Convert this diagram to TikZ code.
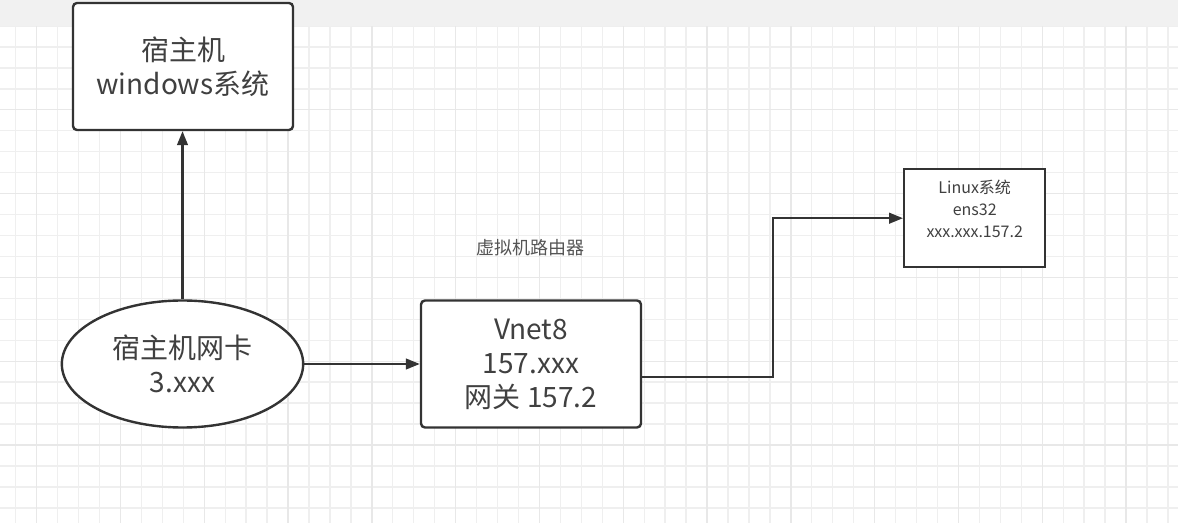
\documentclass[tikz,border=0pt]{standalone}
\usepackage{fontspec}
\setmainfont{Noto Sans CJK SC}
\usetikzlibrary{arrows.meta,shapes.geometric}
\definecolor{bandgray}{HTML}{F1F1F1}
\definecolor{gridminor}{HTML}{EFEFEF}
\definecolor{gridmajor}{HTML}{E8E8E8}
\definecolor{linecol}{HTML}{333333}
\definecolor{txtcol}{HTML}{404040}
\definecolor{lblcol}{HTML}{555555}
\begin{document}
\begin{tikzpicture}[x=0.75pt,y=-0.75pt,
  shapeline/.style={draw=linecol, line width=1.8pt, fill=white, inner sep=0pt, align=center, text=txtcol},
  bigbox/.style={shapeline, rounded corners=3pt, minimum width=165pt, minimum height=95.25pt, font=\fontsize{21}{25.5}\selectfont},
  nicshape/.style={shapeline, ellipse, minimum width=181pt, minimum height=95.25pt, font=\fontsize{21}{25.5}\selectfont},
  smallbox/.style={shapeline, minimum width=105.75pt, minimum height=73.5pt},
  lintext/.style={text=txtcol, align=center, inner sep=0pt, font=\fontsize{12}{16.5}\selectfont},
  routerlbl/.style={text=lblcol, inner sep=0pt, font=\fontsize{13.5}{16}\selectfont},
  conn/.style={draw=linecol, line width=1.7pt, -{Triangle[length=10.5pt,width=8pt]}},
]
\useasboundingbox (0,0) rectangle (1178,523);
\fill[white] (0,0) rectangle (1178,523);
% grid
\foreach \i in {0,...,55} \draw[gridminor, line width=1pt] ({15.7+20.95*\i},26) -- ({15.7+20.95*\i},523);
\foreach \j in {0,...,24} \draw[gridminor, line width=1pt] (0,{26+20.95*\j}) -- (1178,{26+20.95*\j});
\foreach \i in {1,5,...,53} \draw[gridmajor, line width=1pt] ({15.7+20.95*\i},26) -- ({15.7+20.95*\i},523);
\foreach \j in {4,8,...,24} \draw[gridmajor, line width=1pt] (0,{26+20.95*\j}) -- (1178,{26+20.95*\j});
\fill[bandgray] (0,0) rectangle (1178,26);

% nodes
\node[bigbox] (host) at (183,66.5) {宿主机\\windows系统};
\node[nicshape] (nic) at (182.5,364) {宿主机网卡\\3.xxx};
\node[bigbox] (vnet) at (531,364) {Vnet8\\157.xxx\\网关 157.2};
\node[smallbox, label={[lintext, yshift=7pt]center:{Linux系统\\ens32\\xxx.xxx.157.2}}] (linux) at (974.7,218.2) {};
\node[routerlbl] (router) at (530.5,248) {虚拟机路由器};

% connectors
\draw[conn] (nic.north) -- (nic.north |- host.south);
\draw[conn] (nic.east) -- (nic.east -| vnet.west);
\draw[conn] ([yshift=-9.5pt]vnet.east) -- ++(131,0) |- (linux.west);
\end{tikzpicture}
\end{document}
